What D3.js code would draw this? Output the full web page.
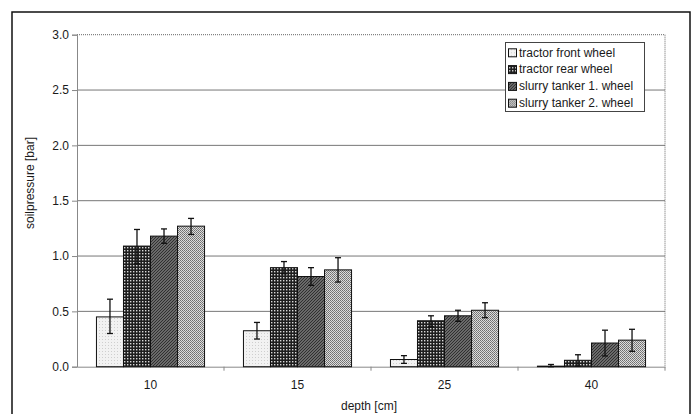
<!DOCTYPE html>
<html>
<head>
  <script src="https://d3js.org/d3.v7.min.js"></script>
  <style>
    body { margin: 0; background: #fff; }
    text { font-family: "Liberation Sans", Arial, sans-serif; fill: #1a1a1a; }
  </style>
</head>
<body>
  <div id="chart"></div>
  <script>
    // values
    const depths = ["10", "15", "25", "40"];
    const seriesNames = ["tractor front wheel", "tractor rear wheel", "slurry tanker 1. wheel", "slurry tanker 2. wheel"];
    const frontMean = [0.45, 0.325, 0.065, 0.005];
    const frontLow  = [0.30, 0.25, 0.03, 0.0];
    const frontHigh = [0.61, 0.40, 0.10, 0.02];
    const rearMean  = [1.09, 0.895, 0.415, 0.058];
    const rearLow   = [0.93, 0.84, 0.36, 0.005];
    const rearHigh  = [1.24, 0.95, 0.46, 0.108];
    const tank1Mean = [1.18, 0.815, 0.46, 0.214];
    const tank1Low  = [1.115, 0.735, 0.41, 0.097];
    const tank1High = [1.245, 0.895, 0.51, 0.33];
    const tank2Mean = [1.27, 0.875, 0.51, 0.24];
    const tank2Low  = [1.195, 0.765, 0.443, 0.139];
    const tank2High = [1.34, 0.985, 0.578, 0.338];
    const yTicks = [0, 0.5, 1.0, 1.5, 2.0, 2.5, 3.0];

    const means = [frontMean, rearMean, tank1Mean, tank2Mean];
    const lows = [frontLow, rearLow, tank1Low, tank2Low];
    const highs = [frontHigh, rearHigh, tank1High, tank2High];

    const width = 693, height = 414;
    const plot = { left: 77, right: 665, top: 34.7, bottom: 366.7 };

    const svg = d3.select("#chart").append("svg")
      .attr("width", width)
      .attr("height", height);

    // fill patterns for the four wheels
    const defs = svg.append("defs");
    const p0 = defs.append("pattern").attr("id", "pat0").attr("patternUnits", "userSpaceOnUse")
      .attr("width", 3).attr("height", 3);
    p0.append("rect").attr("width", 3).attr("height", 3).attr("fill", "#f2f2f2");
    p0.append("rect").attr("width", 1).attr("height", 1).attr("fill", "#cfcfcf");

    const p1 = defs.append("pattern").attr("id", "pat1").attr("patternUnits", "userSpaceOnUse")
      .attr("width", 3).attr("height", 3);
    p1.append("rect").attr("width", 3).attr("height", 3).attr("fill", "#1e1e1e");
    p1.append("rect").attr("x", 1).attr("y", 1).attr("width", 1.4).attr("height", 1.4).attr("fill", "#d8d8d8");

    const p2 = defs.append("pattern").attr("id", "pat2").attr("patternUnits", "userSpaceOnUse")
      .attr("width", 3).attr("height", 3);
    p2.append("rect").attr("width", 3).attr("height", 3).attr("fill", "#6a6a6a");
    p2.append("path").attr("d", "M-1,1 L1,-1 M0,3 L3,0 M2,4 L4,2").attr("stroke", "#303030").attr("stroke-width", 1);

    const p3 = defs.append("pattern").attr("id", "pat3").attr("patternUnits", "userSpaceOnUse")
      .attr("width", 2).attr("height", 2);
    p3.append("rect").attr("width", 2).attr("height", 2).attr("fill", "#dcdcdc");
    p3.append("rect").attr("width", 1).attr("height", 1).attr("fill", "#6e6e6e");
    p3.append("rect").attr("x", 1).attr("y", 1).attr("width", 1).attr("height", 1).attr("fill", "#808080");

    const fills = ["url(#pat0)", "url(#pat1)", "url(#pat2)", "url(#pat3)"];

    // outer frame
    svg.append("rect")
      .attr("x", 12).attr("y", 12)
      .attr("width", 678).attr("height", 420)
      .attr("fill", "none").attr("stroke", "#111").attr("stroke-width", 1.5);

    const x0 = d3.scaleBand().domain(depths).range([plot.left, plot.right]).paddingInner(0).paddingOuter(0);
    const x1 = d3.scaleBand().domain(d3.range(seriesNames.length)).range([0, x0.bandwidth()])
      .paddingInner(0).paddingOuter(0.72);
    const y = d3.scaleLinear().domain([0, 3]).range([plot.bottom, plot.top]);

    // gridlines
    svg.append("g").selectAll("line")
      .data(yTicks.filter(t => t > 0 && t < 3))
      .enter().append("line")
      .attr("x1", plot.left).attr("x2", plot.right)
      .attr("y1", d => y(d)).attr("y2", d => y(d))
      .attr("stroke", "#777").attr("stroke-width", 1);

    // dotted top and right edges of the plot area
    svg.append("path")
      .attr("d", `M${plot.left},${y(3)}H${plot.right}V${plot.bottom}`)
      .attr("fill", "none").attr("stroke", "#666").attr("stroke-width", 1)
      .attr("stroke-dasharray", "1,1");

    // y axis
    const yAxis = svg.append("g")
      .attr("transform", `translate(${plot.left},0)`)
      .call(d3.axisLeft(y).tickValues(yTicks).tickFormat(d3.format(".1f")).tickSizeOuter(0).tickSize(5).tickPadding(3));
    yAxis.select(".domain").attr("stroke", "#888");
    yAxis.selectAll(".tick line").attr("stroke", "#888");
    yAxis.selectAll(".tick text").attr("font-size", 12).attr("fill", "#1a1a1a")
      .attr("font-family", "Liberation Sans, Arial, sans-serif");

    // x axis: labels under each group, ticks between groups
    const xAxis = svg.append("g")
      .attr("transform", `translate(0,${plot.bottom})`)
      .call(d3.axisBottom(x0).tickSize(0).tickPadding(14).tickSizeOuter(0));
    xAxis.select(".domain").attr("stroke", "#888");
    xAxis.selectAll(".tick text").attr("font-size", 12).attr("fill", "#1a1a1a")
      .attr("font-family", "Liberation Sans, Arial, sans-serif");
    xAxis.selectAll("line.sep")
      .data(depths.slice(1).concat(["end"]))
      .enter().append("line").attr("class", "sep")
      .attr("x1", d => d === "end" ? x0.range()[1] : x0(d))
      .attr("x2", d => d === "end" ? x0.range()[1] : x0(d))
      .attr("y1", 0).attr("y2", 4)
      .attr("stroke", "#888");

    // bars
    const groups = svg.append("g").selectAll("g")
      .data(seriesNames.map((name, i) => ({ name, i })))
      .enter().append("g");

    groups.selectAll("rect")
      .data(s => depths.map((d, j) => ({ s: s.i, depth: d, v: means[s.i][j], lo: lows[s.i][j], hi: highs[s.i][j] })))
      .enter().append("rect")
      .attr("x", d => x0(d.depth) + x1(d.s))
      .attr("y", d => y(d.v))
      .attr("width", x1.bandwidth())
      .attr("height", d => y(0) - y(d.v))
      .attr("fill", d => fills[d.s])
      .attr("stroke", "#111").attr("stroke-width", 1);

    // error bars
    const errs = groups.selectAll("g.err")
      .data(s => depths.map((d, j) => ({ s: s.i, depth: d, lo: lows[s.i][j], hi: highs[s.i][j] })))
      .enter().append("g").attr("class", "err")
      .attr("transform", d => `translate(${x0(d.depth) + x1(d.s) + x1.bandwidth() / 2},0)`);
    errs.append("line")
      .attr("y1", d => y(d.lo)).attr("y2", d => y(d.hi))
      .attr("stroke", "#111").attr("stroke-width", 1.3);
    errs.append("line")
      .attr("x1", -3).attr("x2", 3)
      .attr("y1", d => y(d.hi)).attr("y2", d => y(d.hi))
      .attr("stroke", "#111").attr("stroke-width", 1.3);
    errs.append("line")
      .attr("x1", -3).attr("x2", 3)
      .attr("y1", d => y(d.lo)).attr("y2", d => y(d.lo))
      .attr("stroke", "#111").attr("stroke-width", 1.3);

    // axis titles
    svg.append("text")
      .attr("x", 369).attr("y", 410)
      .attr("text-anchor", "middle").attr("font-size", 12)
      .text("depth [cm]");
    svg.append("text")
      .attr("transform", "translate(34,183) rotate(-90)")
      .attr("text-anchor", "middle").attr("font-size", 12)
      .text("soilpressure [bar]");

    // legend
    const legend = svg.append("g");
    legend.append("rect")
      .attr("x", 505.5).attr("y", 42.5)
      .attr("width", 139).attr("height", 69)
      .attr("fill", "#fff").attr("stroke", "#444").attr("stroke-width", 1);
    const items = legend.selectAll("g.item")
      .data(seriesNames)
      .enter().append("g").attr("class", "item")
      .attr("transform", (d, i) => `translate(508,${52.3 + i * 16.8})`);
    items.append("rect")
      .attr("x", 0.5).attr("y", -3.5)
      .attr("width", 8).attr("height", 8)
      .attr("fill", (d, i) => fills[i])
      .attr("stroke", "#111").attr("stroke-width", 1);
    items.append("text")
      .attr("x", 11).attr("y", 4.3)
      .attr("font-size", 12)
      .text(d => d);
  </script>
</body>
</html>
